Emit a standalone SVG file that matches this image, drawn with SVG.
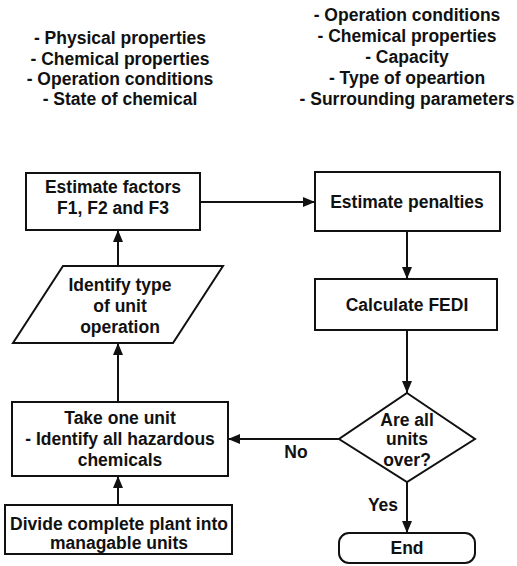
<svg xmlns="http://www.w3.org/2000/svg" width="517" height="566" viewBox="0 0 517 566">
<defs>
<style>
text{font-family:"Liberation Sans",Arial,sans-serif;font-weight:bold;font-size:17.5px;fill:#111;text-anchor:middle}
.s{fill:#fff;stroke:#111;stroke-width:2}
.c{fill:none;stroke:#111;stroke-width:2}
</style>
<marker id="a" markerUnits="userSpaceOnUse" markerWidth="12" markerHeight="10" refX="12" refY="5" orient="auto"><path d="M0,0 L12,5 L0,10 z" fill="#111"/></marker>
</defs>
<rect width="517" height="566" fill="#fff"/>
<g id="notes-left">
<text x="120" y="44">- Physical properties</text>
<text x="120" y="65">- Chemical properties</text>
<text x="120" y="85">- Operation conditions</text>
<text x="120" y="105">- State of chemical</text>
</g>
<g id="notes-right">
<text x="407" y="21">- Operation conditions</text>
<text x="407" y="42">- Chemical properties</text>
<text x="407" y="63">- Capacity</text>
<text x="407" y="84">- Type of opeartion</text>
<text x="407" y="105">- Surrounding parameters</text>
</g>
<g id="connectors">
<path class="c" d="M200,202 L315,202" marker-end="url(#a)"/>
<path class="c" d="M407,231 L407,279" marker-end="url(#a)"/>
<path class="c" d="M407,330 L407,393" marker-end="url(#a)"/>
<path class="c" d="M407,482 L407,533" marker-end="url(#a)"/>
<path class="c" d="M339,439 L228,439" marker-end="url(#a)"/>
<path class="c" d="M118,505 L118,476" marker-end="url(#a)"/>
<path class="c" d="M118,402 L118,343" marker-end="url(#a)"/>
<path class="c" d="M118,266 L118,230" marker-end="url(#a)"/>
<text x="296" y="458">No</text>
<text x="383" y="511">Yes</text>
</g>
<g id="estimate-factors">
<rect class="s" x="26" y="173" width="174" height="57"/>
<text x="113" y="193">Estimate factors</text>
<text x="113" y="214">F1, F2 and F3</text>
</g>
<g id="estimate-penalties">
<rect class="s" x="315" y="172" width="185" height="59"/>
<text x="407" y="208">Estimate penalties</text>
</g>
<g id="calculate-fedi">
<rect class="s" x="315" y="279" width="182" height="51"/>
<text x="407" y="311">Calculate FEDI</text>
</g>
<g id="decision">
<polygon class="s" points="407,393 475,439 407,482 339,439"/>
<text x="407" y="426">Are all</text>
<text x="407" y="445">units</text>
<text x="407" y="466">over?</text>
</g>
<g id="end">
<rect class="s" x="339" y="533" width="136" height="30" rx="10"/>
<text x="407" y="554">End</text>
</g>
<g id="identify-type">
<polygon class="s" points="63,266 223,266 173,343 13,343"/>
<text x="120" y="291">Identify type</text>
<text x="120" y="312">of unit</text>
<text x="120" y="333">operation</text>
</g>
<g id="take-one-unit">
<rect class="s" x="12" y="402" width="216" height="74"/>
<text x="120" y="424">Take one unit</text>
<text x="120" y="445">- Identify all hazardous</text>
<text x="120" y="466">chemicals</text>
</g>
<g id="divide-plant">
<rect class="s" x="5" y="505" width="227" height="49"/>
<text x="119" y="530">Divide complete plant into</text>
<text x="119" y="549">managable units</text>
</g>
</svg>
